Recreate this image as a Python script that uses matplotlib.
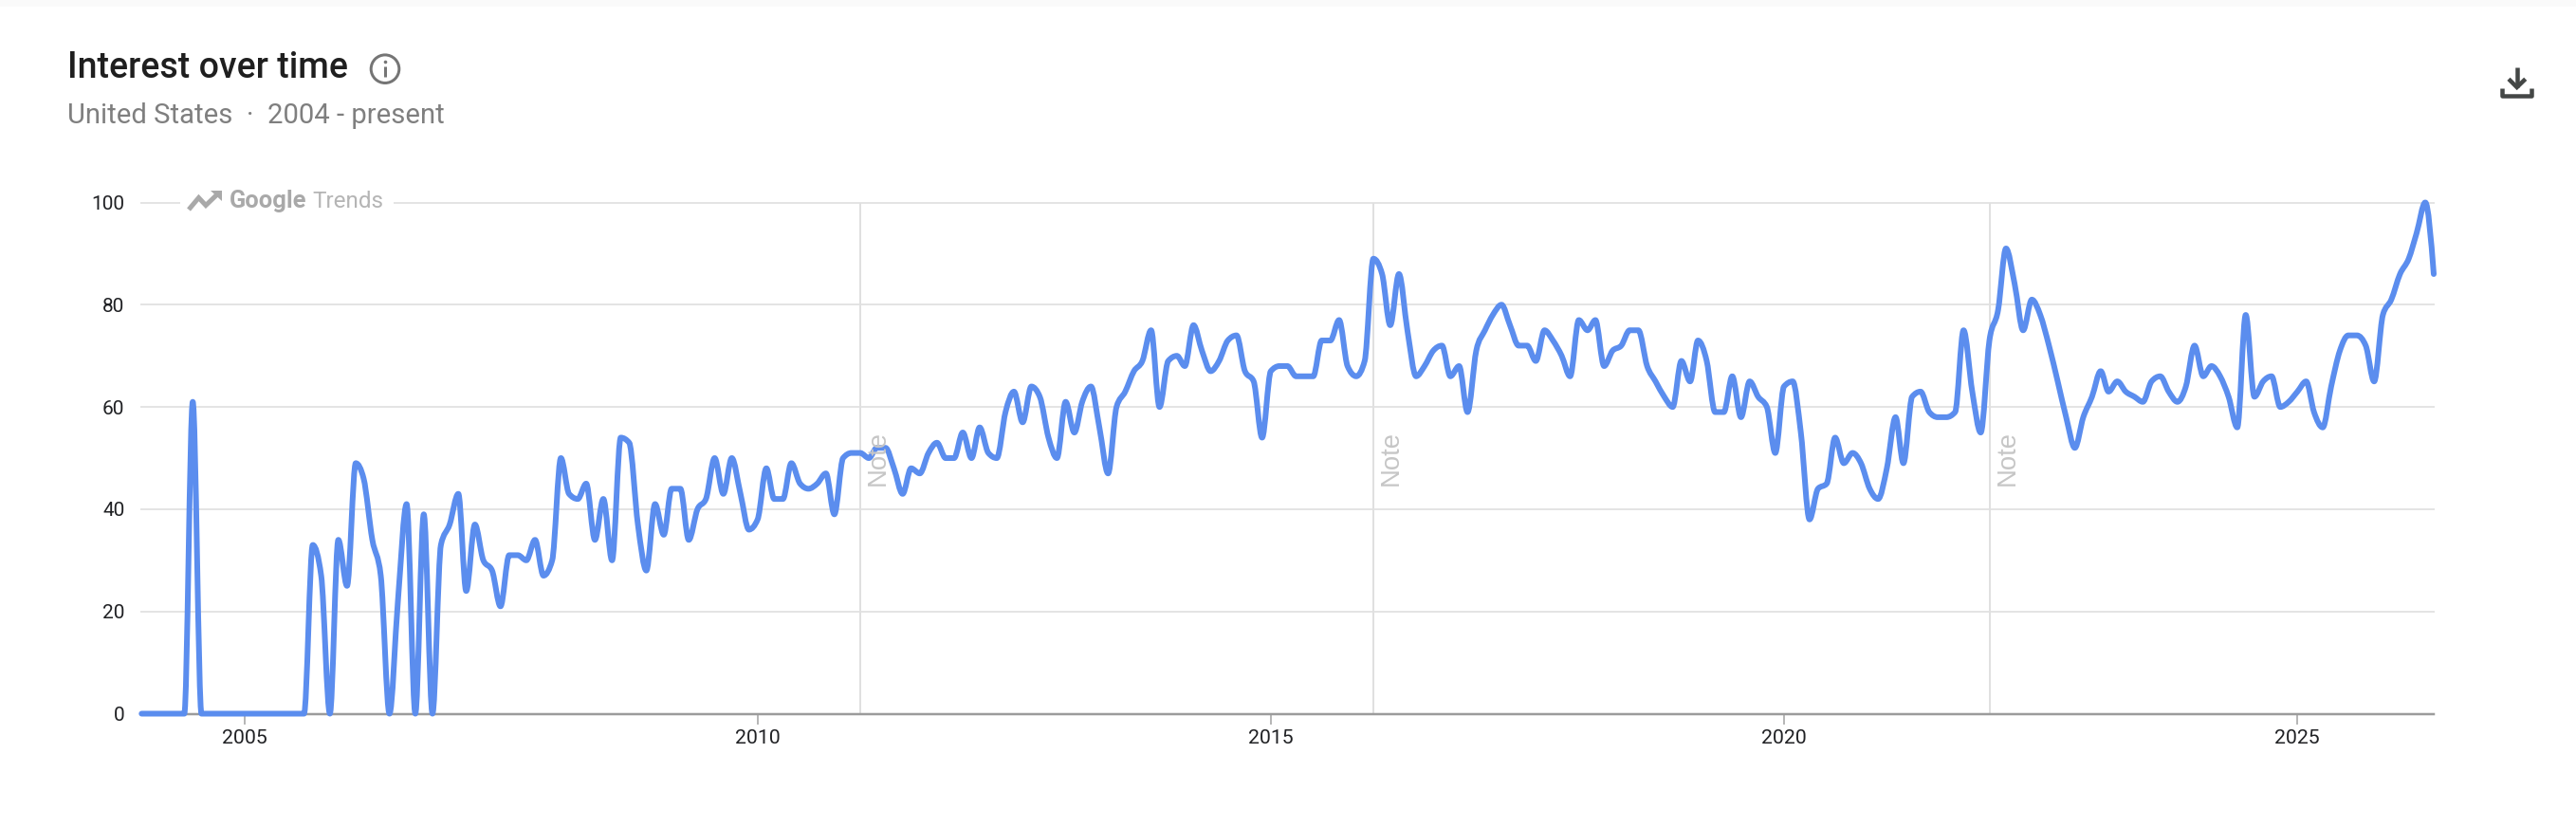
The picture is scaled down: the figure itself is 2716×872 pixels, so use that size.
import numpy as np
import pandas as pd
import matplotlib
matplotlib.use("Agg")
import matplotlib.pyplot as plt
import matplotlib.dates as mdates
from matplotlib.path import Path
from matplotlib.patches import PathPatch, Circle, Rectangle, Polygon

# monthly interest, Jan 2004 onwards
values_2004_2007 = [0, 0, 0, 0, 0, 0, 61, 0, 0, 0, 0, 0, 0, 0, 0, 0, 0, 0, 0, 0,
                    33, 27, 0, 34, 25, 49, 46, 34, 27, 0, 22, 41, 0, 39, 0, 33,
                    37, 43, 24, 37, 30, 28, 21, 31, 31, 30, 34]
values_2007_2011 = [27, 30, 50, 43, 42, 45, 34, 42, 30, 54, 53, 37, 28, 41, 35,
                    44, 44, 34, 40, 42, 50, 43, 50, 43, 36, 38, 48, 42, 42, 49,
                    45, 44, 45, 47, 39, 50, 51, 51, 50, 52, 52, 48, 43, 48]
values_2011_2015 = [47, 51, 53, 50, 50, 55, 50, 56, 51, 50, 59, 63, 57, 64, 62,
                    54, 50, 61, 55, 61, 64, 56, 47, 60, 63, 67, 69, 75, 60, 69,
                    70, 68, 76, 71, 67, 69, 73, 74, 67, 65, 54, 67, 68, 68, 66]
values_2015_2019 = [66, 66, 73, 73, 77, 68, 66, 69, 89, 86, 76, 86, 75, 66, 68,
                    71, 72, 66, 68, 59, 71, 75, 78, 80, 76, 72, 72, 69, 75, 73,
                    70, 66, 77, 75, 77, 68, 71, 72, 75, 75, 68, 65, 62, 60, 69]
values_2019_2021 = [65, 73, 69, 59, 59, 66, 58, 65, 62, 60, 51, 64, 65, 55, 38,
                    44, 45, 54, 49, 51, 49, 44, 42, 48, 58, 49, 62, 63, 59, 58,
                    58, 59, 75, 63, 55]
values_2022_2026 = [73, 79, 91, 84, 75, 81, 78, 72, 65, 58, 52, 58, 62, 67, 63,
                    65, 63, 62, 61, 65, 66, 63, 61, 64, 72, 66, 68, 66, 62, 56,
                    78, 62, 65, 66, 60, 61, 63, 65, 59, 56, 64, 71, 74, 74, 72,
                    65, 78, 81, 86, 89, 94, 100, 86]

y_ticks = [0, 20, 40, 60, 80, 100]
year_ticks = [2005, 2010, 2015, 2020, 2025]
note_years = [2011, 2016, 2022]

W, H = 2716, 872
LEFT, RIGHT, Y0, Y100 = 149.3, 2566.0, 752.5, 213.5
LINE_COLOR = "#5b8dee"
GRID_COLOR = "#e4e4e4"
FONT = "Roboto"


def px(n):
    # pixel widths to points at dpi 100
    return n * 0.72


def monotone_path(x, y):
    # monotone cubic through the points, as bezier segments
    h = np.diff(x)
    s = np.diff(y) / h
    m = np.zeros(len(x))
    p = (s[:-1] * h[1:] + s[1:] * h[:-1]) / (h[:-1] + h[1:])
    m[1:-1] = (np.sign(s[:-1]) + np.sign(s[1:])) * np.minimum.reduce(
        [np.abs(s[:-1]), np.abs(s[1:]), 0.5 * np.abs(p)]
    )
    m[0] = (3 * s[0] - m[1]) / 2
    m[-1] = (3 * s[-1] - m[-2]) / 2

    verts = [(x[0], y[0])]
    codes = [Path.MOVETO]
    for i in range(len(h)):
        verts.append((x[i] + h[i] / 3, y[i] + m[i] * h[i] / 3))
        verts.append((x[i + 1] - h[i] / 3, y[i + 1] - m[i + 1] * h[i] / 3))
        verts.append((x[i + 1], y[i + 1]))
        codes += [Path.CURVE4] * 3
    return Path(verts, codes)


values = np.array(values_2004_2007 + values_2007_2011 + values_2011_2015
                  + values_2015_2019 + values_2019_2021 + values_2022_2026, dtype=float)
dates = pd.date_range("2004-01-01", periods=len(values), freq="MS")
x_num = mdates.date2num(dates)

fig = plt.figure(figsize=(W / 100, H / 100), dpi=100, facecolor="white")
ax = fig.add_axes([LEFT / W, 1 - Y0 / H, (RIGHT - LEFT) / W, (Y0 - Y100) / H])
ax.set_xlim(x_num[0], x_num[-1])
ax.set_ylim(0, 100)
ax.xaxis_date()

for side in ["top", "left", "right"]:
    ax.spines[side].set_visible(False)
ax.spines["bottom"].set_color("#9b9b9b")
ax.spines["bottom"].set_linewidth(px(2.5))

ax.set_yticks(y_ticks)
ax.set_yticklabels(y_ticks, fontsize=15, family=FONT, color="#202124")
ax.tick_params(axis="y", length=0, pad=px(18))
ax.set_xticks([mdates.date2num(pd.Timestamp(year=yr, month=1, day=1)) for yr in year_ticks])
ax.set_xticklabels(year_ticks, fontsize=15.3, family=FONT, color="#202124")
ax.tick_params(axis="x", length=px(11), width=px(1.5), color="#a0a0a0", pad=px(5))

ax.grid(axis="y", color=GRID_COLOR, linewidth=px(2))
ax.set_axisbelow(True)
for gl in ax.get_ygridlines():
    gl.set_clip_on(False)

for yr in note_years:
    note_x = mdates.date2num(pd.Timestamp(year=yr, month=1, day=1))
    ax.axvline(note_x, color="#e0e0e0", linewidth=px(2), zorder=1)
    ax.annotate("Note", xy=(note_x, 50), xytext=(px(19), 0), textcoords="offset points",
                rotation=90, ha="center", va="center", fontsize=19.8,
                family="Liberation Sans", color="#c6c6c6", zorder=5)

ax.add_patch(PathPatch(monotone_path(x_num, values), facecolor="none", edgecolor=LINE_COLOR,
                       linewidth=px(6), capstyle="round", joinstyle="round",
                       clip_on=False, zorder=3))

# header, icons and watermark are placed in pixel coordinates
top = fig.add_axes([0, 0, 1, 1], facecolor="none")
top.set_xlim(0, W)
top.set_ylim(H, 0)
top.axis("off")

top.add_patch(Rectangle((0, 0), W, 7, facecolor="#fafafa", edgecolor="none"))

top.text(71, 82, "Interest over time", fontsize=27, family=FONT, fontweight="medium",
         color="#1f1f1f", va="baseline")
top.text(71, 130, "United States  ·  2004 - present", fontsize=21.1, family=FONT,
         color="#7f7f7f", va="baseline")

# info icon
top.add_patch(Circle((406, 72.7), 14.8, facecolor="none", edgecolor="#757575", linewidth=px(3)))
top.plot([406, 406], [70.5, 81], color="#757575", linewidth=px(3), solid_capstyle="butt")
top.plot([406], [65], "o", color="#757575", markersize=px(3.6), markeredgewidth=0)

# download icon
ICON = "#444746"
top.plot([2653.7, 2653.7], [71, 92], color=ICON, linewidth=px(4.5), solid_capstyle="butt")
top.plot([2645, 2653.7, 2662.7], [83.3, 92, 83.3], color=ICON, linewidth=px(4.5),
         solid_capstyle="butt", solid_joinstyle="miter")
top.plot([2638.3, 2638.3, 2669.3, 2669.3], [93.3, 101.5, 101.5, 93.3], color=ICON,
         linewidth=px(4.5), solid_capstyle="butt", solid_joinstyle="round")

# watermark sits in a gap in the top gridline
top.add_patch(Rectangle((190, 205), 224.5, 18, facecolor="white", edgecolor="none"))
MARK = "#a9a9a9"
top.plot([199, 209.5, 217, 229], [221, 208.5, 216.5, 205], color=MARK, linewidth=px(5),
         solid_capstyle="butt", solid_joinstyle="miter")
top.add_patch(Polygon([(222, 201), (234, 201), (234, 212)], closed=True, facecolor=MARK, edgecolor="none"))
top.text(242, 219, "Google", fontsize=18.4, family=FONT, fontweight="bold", color=MARK, va="baseline")
top.text(329, 219, "Trends", fontsize=17.5, family=FONT, color="#b5b5b5", va="baseline")

fig.savefig("out.png", dpi=100, facecolor="white")
